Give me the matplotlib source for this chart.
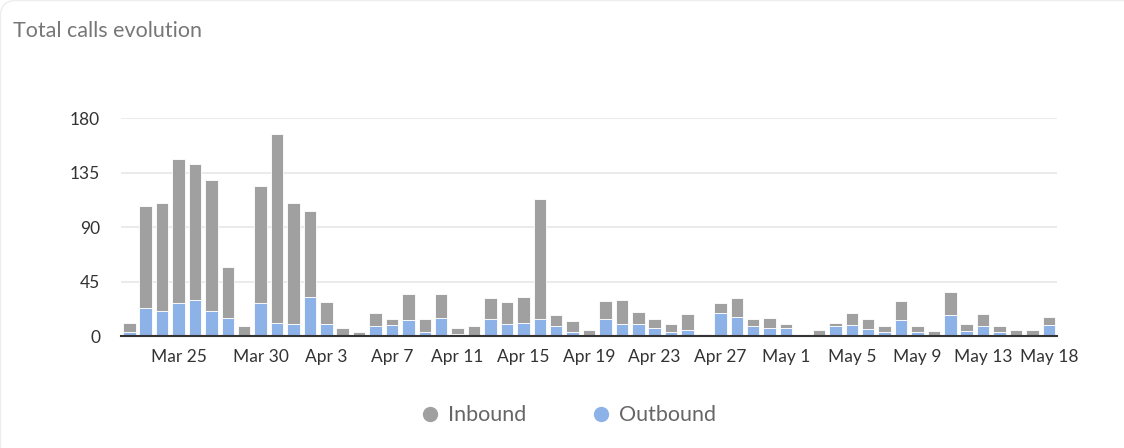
import matplotlib.pyplot as plt
import numpy as np
from matplotlib.lines import Line2D
from matplotlib.path import Path
from matplotlib.patches import PathPatch

plt.rcParams['font.family'] = ['Lato', 'DejaVu Sans']

# Dni (kategorie na osi X), jeden słupek na dzień
dni = (['Mar %d' % d for d in range(22, 32)] +
       ['Apr %d' % d for d in range(1, 31)] +
       ['May %d' % d for d in range(1, 14)] +
       ['May %d' % d for d in range(15, 19)])

# Suma połączeń i połączenia wychodzące
suma = [11, 107, 110, 146, 142, 129, 57, 8, 124, 167, 110, 103, 28, 7, 3, 19, 14,
        35, 14, 35, 7, 8, 31, 28, 32, 113, 17, 12, 5, 29, 30, 20, 14, 10, 18, 2,
        27, 31, 14, 15, 10, 0, 5, 11, 19, 14, 8, 29, 8, 4, 36, 10, 18, 8, 5, 5, 16]
outbound = [3, 23, 21, 27, 30, 21, 15, 0, 27, 11, 10, 32, 10, 0, 0, 8, 9,
            13, 3, 15, 2, 0, 14, 10, 11, 14, 8, 3, 0, 14, 10, 10, 7, 3, 5, 0,
            19, 16, 8, 7, 7, 0, 0, 8, 9, 6, 3, 13, 3, 0, 17, 4, 8, 3, 1, 0, 9]
inbound = [s - o for s, o in zip(suma, outbound)]

etykiety = ['Mar 25', 'Mar 30', 'Apr 3', 'Apr 7', 'Apr 11', 'Apr 15', 'Apr 19',
            'Apr 23', 'Apr 27', 'May 1', 'May 5', 'May 9', 'May 13', 'May 18']
y_ticks = [0, 45, 90, 135, 180]

kolor_in = '#a0a0a0'
kolor_out = '#8cb2e8'

fig = plt.figure(figsize=(11.24, 4.48), dpi=100)
ax = fig.add_axes([0.1077, 0.25, 0.8327, 0.4866])

# Delikatna krawędź karty w lewym górnym rogu (w pikselach)
W, H = 1124, 448
sciezka = Path([(0.5, 0), (0.5, H - 16), (0.5, H - 0.5), (16, H - 0.5), (W, H - 0.5)],
               [Path.MOVETO, Path.LINETO, Path.CURVE3, Path.CURVE3, Path.LINETO])
fig.patches.append(PathPatch(sciezka, transform=None, fc='none', ec='#ededed', lw=1.0))

x = np.arange(len(dni))
ax.bar(x, outbound, width=0.76, color=kolor_out, edgecolor='white', linewidth=0.6,
       label='Outbound', zorder=3)
ax.bar(x, inbound, width=0.76, bottom=outbound, color=kolor_in, edgecolor='white',
       linewidth=0.6, label='Inbound', zorder=3)

ax.set_xlim(-0.5, len(dni) - 0.5)
ax.set_ylim(0, 180)
ax.set_yticks(y_ticks)
ax.tick_params(axis='y', length=0, pad=15, labelsize=12.5, labelcolor='#333333')
ax.set_xticks([dni.index(e) for e in etykiety])
ax.set_xticklabels(etykiety)
ax.tick_params(axis='x', length=0, pad=9, labelsize=12.5, labelcolor='#333333')
ax.grid(axis='y', color='#e8e8e8', linewidth=1.2, zorder=0)
for s in ['top', 'right', 'left']:
    ax.spines[s].set_visible(False)
ax.spines['bottom'].set_color('#333333')
ax.spines['bottom'].set_linewidth(1.5)
ax.spines['bottom'].set_zorder(4)

fig.text(0.0115, 0.917, 'Total calls evolution', fontsize=15.5, color='#777777',
         ha='left', va='baseline')

# Legenda z okrągłymi znacznikami
uchwyty = [Line2D([], [], marker='o', ls='', color=kolor_in, markersize=10),
           Line2D([], [], marker='o', ls='', color=kolor_out, markersize=10)]
fig.legend(uchwyty, ['Inbound', 'Outbound'], loc='center', bbox_to_anchor=(0.505, 0.073),
           ncol=2, frameon=False, fontsize=15.5, labelcolor='#666666',
           handletextpad=0.3, columnspacing=3.0, handlelength=1.0)

fig.savefig('out.png', dpi=100)
